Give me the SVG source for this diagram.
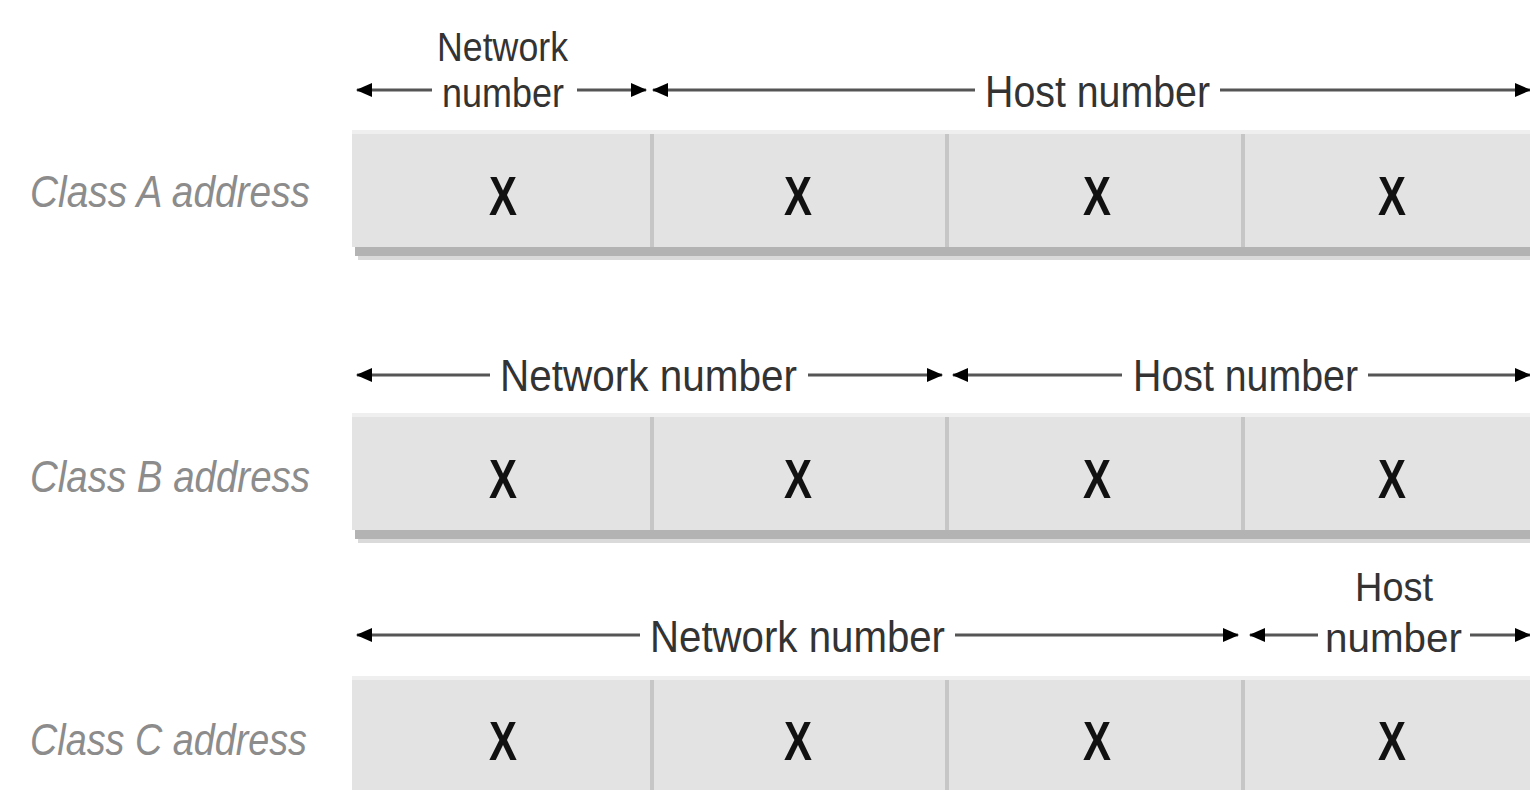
<svg xmlns="http://www.w3.org/2000/svg" width="1530" height="790" viewBox="0 0 1530 790">
<defs>
<marker id="ah" viewBox="0 0 16 14" refX="15" refY="7" markerWidth="16" markerHeight="14" markerUnits="userSpaceOnUse" orient="auto">
<path d="M0,0 L16,7 L0,14 z" fill="#000"/>
</marker>
</defs>
<style>
.cell{fill:#e3e3e3}
.top{fill:#efefef}
.div{fill:#c6c6c6}
.sh{fill:#b3b3b3}
.sh2{fill:#dadada}
.x{font-family:"Liberation Sans",sans-serif;font-size:56px;font-weight:bold;fill:#111;text-anchor:middle}
.lab{font-family:"Liberation Sans",sans-serif;font-size:44px;font-style:italic;fill:#8c8c8c}
.t{font-family:"Liberation Sans",sans-serif;font-size:44px;fill:#333}
.t2{font-family:"Liberation Sans",sans-serif;font-size:40px;fill:#333}
.ln{stroke:#555;stroke-width:3;fill:none;marker-end:url(#ah)}
</style>
<g id="rowA">
<rect class="sh2" x="358" y="256" width="1172" height="4"/>
<rect class="sh" x="355" y="246" width="1175" height="10"/>
<rect class="cell" x="352" y="130" width="1178" height="117"/>
<rect class="top" x="352" y="130" width="1178" height="4"/>
<rect class="div" x="650" y="134" width="4" height="113"/>
<rect class="div" x="945" y="134" width="4" height="113"/>
<rect class="div" x="1241" y="134" width="4" height="113"/>
<text class="lab" x="30" y="207" textLength="280" lengthAdjust="spacingAndGlyphs">Class A address</text>
<text class="x" x="503" y="215" textLength="28" lengthAdjust="spacingAndGlyphs">X</text>
<text class="x" x="798" y="215" textLength="28" lengthAdjust="spacingAndGlyphs">X</text>
<text class="x" x="1097" y="215" textLength="28" lengthAdjust="spacingAndGlyphs">X</text>
<text class="x" x="1392" y="215" textLength="28" lengthAdjust="spacingAndGlyphs">X</text>
</g>
<g id="rowB">
<rect class="sh2" x="358" y="539" width="1172" height="4"/>
<rect class="sh" x="355" y="529" width="1175" height="10"/>
<rect class="cell" x="352" y="413" width="1178" height="117"/>
<rect class="top" x="352" y="413" width="1178" height="4"/>
<rect class="div" x="650" y="417" width="4" height="113"/>
<rect class="div" x="945" y="417" width="4" height="113"/>
<rect class="div" x="1241" y="417" width="4" height="113"/>
<text class="lab" x="30" y="492" textLength="280" lengthAdjust="spacingAndGlyphs">Class B address</text>
<text class="x" x="503" y="498" textLength="28" lengthAdjust="spacingAndGlyphs">X</text>
<text class="x" x="798" y="498" textLength="28" lengthAdjust="spacingAndGlyphs">X</text>
<text class="x" x="1097" y="498" textLength="28" lengthAdjust="spacingAndGlyphs">X</text>
<text class="x" x="1392" y="498" textLength="28" lengthAdjust="spacingAndGlyphs">X</text>
</g>
<g id="rowC">
<rect class="cell" x="352" y="676" width="1178" height="114"/>
<rect class="top" x="352" y="676" width="1178" height="4"/>
<rect class="div" x="650" y="680" width="4" height="110"/>
<rect class="div" x="945" y="680" width="4" height="110"/>
<rect class="div" x="1241" y="680" width="4" height="110"/>
<text class="lab" x="30" y="755" textLength="277" lengthAdjust="spacingAndGlyphs">Class C address</text>
<text class="x" x="503" y="760" textLength="28" lengthAdjust="spacingAndGlyphs">X</text>
<text class="x" x="798" y="760" textLength="28" lengthAdjust="spacingAndGlyphs">X</text>
<text class="x" x="1097" y="760" textLength="28" lengthAdjust="spacingAndGlyphs">X</text>
<text class="x" x="1392" y="760" textLength="28" lengthAdjust="spacingAndGlyphs">X</text>
</g>
<g id="connectors">
<line class="ln" x1="432" y1="90" x2="357" y2="90"/>
<line class="ln" x1="577" y1="90" x2="646" y2="90"/>
<line class="ln" x1="975" y1="90" x2="653" y2="90"/>
<line class="ln" x1="1220" y1="90" x2="1530" y2="90"/>
<line class="ln" x1="490" y1="375" x2="357" y2="375"/>
<line class="ln" x1="808" y1="375" x2="942" y2="375"/>
<line class="ln" x1="1122" y1="375" x2="953" y2="375"/>
<line class="ln" x1="1368" y1="375" x2="1530" y2="375"/>
<line class="ln" x1="640" y1="635" x2="357" y2="635"/>
<line class="ln" x1="955" y1="635" x2="1238" y2="635"/>
<line class="ln" x1="1318" y1="635" x2="1250" y2="635"/>
<line class="ln" x1="1470" y1="635" x2="1530" y2="635"/>
</g>
<g id="labels">
<text class="t2" x="437" y="61" textLength="131" lengthAdjust="spacingAndGlyphs">Network</text>
<text class="t2" x="442" y="107" textLength="122" lengthAdjust="spacingAndGlyphs">number</text>
<text class="t" x="985" y="107" textLength="225" lengthAdjust="spacingAndGlyphs">Host number</text>
<text class="t" x="500" y="391" textLength="297" lengthAdjust="spacingAndGlyphs">Network number</text>
<text class="t" x="1133" y="391" textLength="225" lengthAdjust="spacingAndGlyphs">Host number</text>
<text class="t" x="650" y="652" textLength="295" lengthAdjust="spacingAndGlyphs">Network number</text>
<text class="t2" x="1355" y="601" textLength="78" lengthAdjust="spacingAndGlyphs">Host</text>
<text class="t2" x="1325" y="652" textLength="137" lengthAdjust="spacingAndGlyphs">number</text>
</g>
</svg>
